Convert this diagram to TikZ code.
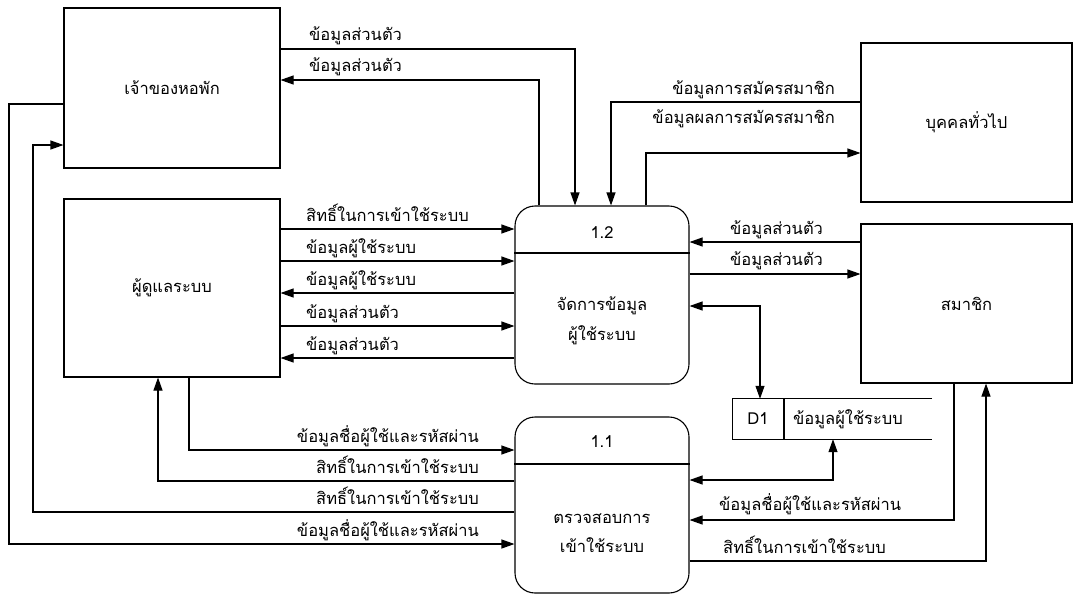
\documentclass[tikz,border=0pt]{standalone}
\usepackage{fontspec}
\setmainfont[Script=Thai]{Loma}
\usetikzlibrary{arrows.meta}
\usetikzlibrary{positioning}
\tikzstyle{entity}=[rectangle,draw,line width=1.1pt,minimum width=216pt,minimum height=160pt,inner sep=0pt]
\tikzstyle{process}=[rectangle,draw,rounded corners=20pt,line width=1.1pt,minimum width=174pt,minimum height=178pt,inner sep=0pt]
\tikzstyle{lbl}=[inner sep=0pt]
\tikzset{flow/.style={line width=1.1pt,-{Triangle[length=13pt,width=9pt]}},
  twoway/.style={line width=1.1pt,{Triangle[length=13pt,width=9pt]}-{Triangle[length=13pt,width=9pt]}}}

\begin{document}
\begin{tikzpicture}[x=1pt,y=-1pt,font=\fontsize{16.5}{20}\selectfont]
  \useasboundingbox (0,0) rectangle (1075,595);

  % external entities
  \node[entity] (owner) at (172,88) {เจ้าของหอพัก};
  \node[entity,minimum height=178pt] (admin) at (172,288) {ผู้ดูแลระบบ};
  \node[entity,minimum width=211pt,minimum height=159pt] (public) at (966.5,122.5) {บุคคลทั่วไป};
  \node[entity,minimum width=211pt,minimum height=159pt] (member) at (966.5,303.5) {สมาชิก};

  % processes
  \node[process] (p12) at (602,295) {};
  \node (p12num) at (602,233) {1.2};
  \node[align=center,font=\fontsize{16.5}{30}\selectfont] (p12txt) at (602,321) {จัดการข้อมูล\\ผู้ใช้ระบบ};
  \draw[line width=1.1pt] (p12.west |- 0,253) -- (p12.east |- 0,253);

  \node[process,minimum height=176pt] (p11) at (602,505) {};
  \node (p11num) at (602,442) {1.1};
  \node[align=center,font=\fontsize{16.5}{29}\selectfont] (p11txt) at (602,533) {ตรวจสอบการ\\เข้าใช้ระบบ};
  \draw[line width=1.1pt] (p11.west |- 0,464) -- (p11.east |- 0,464);

  % data store
  \node[minimum width=199pt,minimum height=40pt,inner sep=0pt] (store) at (832.5,419) {};
  \draw[line width=1.1pt] (store.north east) -- (store.north west) -- (store.south west) -- (store.south east);
  \draw[line width=1.1pt] (store.north -| 784,0) -- (store.south -| 784,0);
  \node (storeid) at (758,419) {D1};
  \node (storetxt) at (848,419) {ข้อมูลผู้ใช้ระบบ};

  % owner <-> 1.2
  \draw[flow] (owner.east |- 0,49) -| (p12.north -| 575,0);
  \draw[flow] (p12.north -| 539,0) |- (owner.east |- 0,80);
  \node[lbl,anchor=base west] (l1) at (309,40) {ข้อมูลส่วนตัว};
  \node[lbl,anchor=base west] (l2) at (309,71) {ข้อมูลส่วนตัว};

  % public <-> 1.2
  \draw[flow] (public.west |- 0,102) -| (p12.north -| 611,0);
  \draw[flow] (p12.north -| 646,0) |- (public.west |- 0,153);
  \node[lbl,anchor=base east] (l3) at (835,94) {ข้อมูลการสมัครสมาชิก};
  \node[lbl,anchor=base east] (l4) at (835,123) {ข้อมูลผลการสมัครสมาชิก};

  % admin <-> 1.2
  \foreach \y/\src/\dst/\txt in {229/admin.east/p12.west/สิทธิ์ในการเข้าใช้ระบบ,
      261/admin.east/p12.west/ข้อมูลผู้ใช้ระบบ, 293/p12.west/admin.east/ข้อมูลผู้ใช้ระบบ,
      326/admin.east/p12.west/ข้อมูลส่วนตัว, 358/p12.west/admin.east/ข้อมูลส่วนตัว}
  {
    \draw[flow] (\src |- 0,\y) -- (\dst |- 0,\y);
    \node[lbl,anchor=base west] at (306,\y-8) {\txt};
  }

  % member <-> 1.2
  \draw[flow] (member.west |- 0,242) -- (p12.east |- 0,242);
  \draw[flow] (p12.east |- 0,274) -- (member.west |- 0,274);
  \node[lbl,anchor=base west] (l5) at (730,234) {ข้อมูลส่วนตัว};
  \node[lbl,anchor=base west] (l6) at (730,265) {ข้อมูลส่วนตัว};

  % data store
  \draw[twoway] (p12.east |- 0,306) -| (store.north -| 760,0);
  \draw[twoway] (p11.east |- 0,480) -| (store.south -| 833,0);

  % member <-> 1.1
  \draw[flow] (member.south -| 954,0) |- (p11.east |- 0,520);
  \draw[flow] (p11.east |- 0,561) -| (member.south -| 986,0);
  \node[lbl,anchor=base west] (l7) at (719,510) {ข้อมูลชื่อผู้ใช้และรหัสผ่าน};
  \node[lbl,anchor=base west] (l8) at (723,553) {สิทธิ์ในการเข้าใช้ระบบ};

  % admin, owner <-> 1.1
  \draw[flow] (admin.south -| 189,0) |- (p11.west |- 0,450);
  \draw[flow] (p11.west |- 0,481) -| (admin.south -| 158,0);
  \draw[flow] (p11.west |- 0,512) -| (33,145) -- (owner.west |- 0,145);
  \draw[flow] (owner.west |- 0,104) -| (9,544) -- (p11.west |- 0,544);
  \node[lbl,anchor=base east] (l9) at (479,442) {ข้อมูลชื่อผู้ใช้และรหัสผ่าน};
  \node[lbl,anchor=base east] (l10) at (479,473) {สิทธิ์ในการเข้าใช้ระบบ};
  \node[lbl,anchor=base east] (l11) at (479,504) {สิทธิ์ในการเข้าใช้ระบบ};
  \node[lbl,anchor=base east] (l12) at (479,536) {ข้อมูลชื่อผู้ใช้และรหัสผ่าน};
\end{tikzpicture}
\end{document}
